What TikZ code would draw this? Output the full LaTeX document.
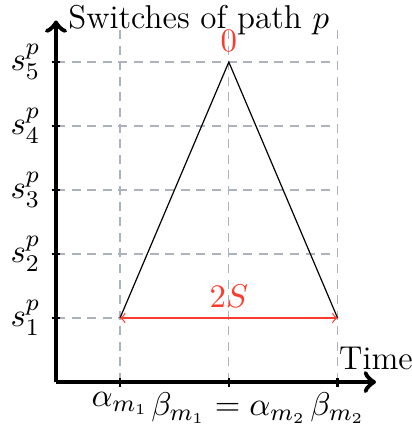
\documentclass[tikz,border=0pt]{standalone}
\usepackage{amsmath}
\definecolor{gridgray}{RGB}{172,178,190}
\definecolor{spanred}{RGB}{250,60,45}
\tikzset{gridline/.style={dashed, gridgray, dash pattern=on 3pt off 2.2pt}}
\begin{document}
\begin{tikzpicture}[x=0.75cm, y=0.75cm, every node/.style={font=\fontsize{11}{13}\selectfont}]
                \useasboundingbox (-0.875, -0.78) rectangle (5.547, 5.97);
                % grid
                \foreach \k in {1,...,5} \draw[gridline] (0, \k) -- (4.4, \k);
                \foreach \t in {1, 2.7, 4.4} \draw[gridline] (\t, 0) -- (\t, 5.53);

                \draw[ultra thick, ->] (0, 0) -- (5, 0) node[above] {Time};
                \draw[ultra thick, ->] (0, 0) -- (0, 5.65) node[right] {Switches of path $p$};

                \foreach \k in {1,...,5} \draw[thick] (-0.07, \k) -- (0.07, \k) node[pos=0, left] {$s_{\k}^{p}$};
                \foreach \t in {1, 2.7, 4.4} \draw[thick] (\t, -0.07) -- (\t, 0.07);

                \node[below] at (1, 0) {$\alpha_{m_1}$};
                \node[below] at (2.7, 0) {$\beta_{m_1} = \alpha_{m_2}$};
                \node[below] at (4.4, 0) {$\beta_{m_2}$};

                \draw (1, 1) -- (2.7, 5) node[above, spanred] {$0$} -- (4.4, 1);
                \draw[<->, spanred] (1, 1) -- (4.4, 1) node[midway, above] {$2S$};
            \end{tikzpicture}
\end{document}
